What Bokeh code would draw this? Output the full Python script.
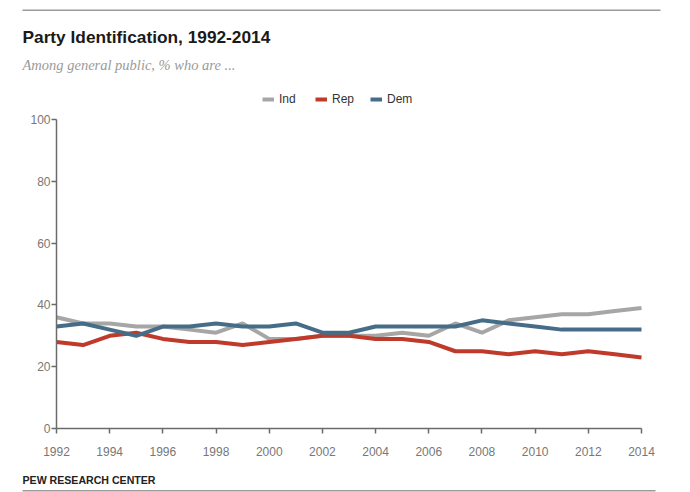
from bokeh.plotting import figure
from bokeh.models import Label, Legend, LegendItem, BoxAnnotation, Range1d, FixedTicker, LinearAxis
from bokeh.embed import file_html
from bokeh.resources import INLINE

years = list(range(1992, 2015))
ind = [36, 34, 34, 33, 33, 32, 31, 34, 29, 29, 30, 30, 30, 31, 30, 34, 31, 35, 36, 37, 37, 38, 39]
rep = [28, 27, 30, 31, 29, 28, 28, 27, 28, 29, 30, 30, 29, 29, 28, 25, 25, 24, 25, 24, 25, 24, 23]
dem = [33, 34, 32, 30, 33, 33, 34, 33, 33, 34, 31, 31, 33, 33, 33, 33, 35, 34, 33, 32, 32, 32, 32]
x_ticks = list(range(1992, 2015, 2))
y_ticks = [0, 20, 40, 60, 80, 100]

title = "Party Identification, 1992-2014"
subtitle = "Among general public, % who are ..."
source = "PEW RESEARCH CENTER"

C_IND, C_REP, C_DEM = "#a6a6a6", "#bf3a2b", "#466d87"

# layout in canvas pixels (from top-left of the figure)
W, H = 690, 492
PL, PR, PT, PB = 56, 641, 119, 428          # plot area edges
X0, X1, Y0, Y1 = years[0], years[-1], 0, 100
xs = (PR - PL) / (X1 - X0)
ys = (PB - PT) / (Y1 - Y0)
x_range = Range1d(X0 - PL / xs, X1 + (W - PR) / xs)
y_range = Range1d(Y0 - (H - PB) / ys, Y1 + PT / ys)

p = figure(width=W, height=H, x_range=x_range, y_range=y_range,
           output_backend="svg", toolbar_location=None,
           x_axis_location=None, y_axis_location=None,
           min_border=0)
p.outline_line_color = None
p.xgrid.visible = False
p.ygrid.visible = False
p.background_fill_color = "white"
p.border_fill_color = "white"

r_ind = p.line(years, ind, line_color=C_IND, line_width=4)
r_rep = p.line(years, rep, line_color=C_REP, line_width=4)
r_dem = p.line(years, dem, line_color=C_DEM, line_width=4)

xaxis = LinearAxis(fixed_location=Y0, bounds=(X0, X1), ticker=FixedTicker(ticks=x_ticks))
yaxis = LinearAxis(fixed_location=X0, bounds=(Y0, Y1), ticker=FixedTicker(ticks=y_ticks))
for ax in (xaxis, yaxis):
    ax.axis_line_color = "#6b6b6b"
    ax.axis_line_width = 1.5
    ax.major_tick_line_color = "#6b6b6b"
    ax.major_tick_line_width = 1.5
    ax.major_tick_in = 0
    ax.minor_tick_line_color = None
    ax.major_label_text_font = "Liberation Sans"
    ax.major_label_text_font_size = "12px"
    ax.major_label_text_color = "#777777"
xaxis.major_tick_out = 5
yaxis.major_tick_out = 5
xaxis.major_label_standoff = 13
yaxis.major_label_standoff = 1
p.add_layout(xaxis, "below")
p.add_layout(yaxis, "left")

legend = Legend(items=[LegendItem(label="Ind", renderers=[r_ind]),
                       LegendItem(label="Rep", renderers=[r_rep]),
                       LegendItem(label="Dem", renderers=[r_dem])],
                orientation="horizontal", location=(262, 386),
                label_text_font="Liberation Sans", label_text_font_size="12px",
                label_text_color="#333333", glyph_width=12, glyph_height=12,
                label_standoff=5, spacing=16, padding=0, margin=0,
                border_line_color=None, background_fill_alpha=0)
p.add_layout(legend, "center")

p.add_layout(Label(x=22, y=H - 36, x_units="screen", y_units="screen", text=title,
                   text_font="Liberation Sans", text_font_style="bold", text_font_size="17.3px",
                   text_color="#1a1a1a", text_baseline="alphabetic"))
p.add_layout(Label(x=22, y=H - 64, x_units="screen", y_units="screen", text=subtitle,
                   text_font="Liberation Serif", text_font_style="italic", text_font_size="14.5px",
                   text_color="#9a9a9a", text_baseline="alphabetic"))
p.add_layout(Label(x=22, y=H - 479, x_units="screen", y_units="screen", text=source,
                   text_font="Liberation Sans", text_font_style="bold", text_font_size="10.6px",
                   text_color="#222222", text_baseline="alphabetic"))

p.add_layout(BoxAnnotation(left=22, right=660, bottom=H - 10.5, top=H - 9,
                           left_units="screen", right_units="screen",
                           bottom_units="screen", top_units="screen",
                           fill_color="#9a9a9a", fill_alpha=1, line_color=None))
p.add_layout(BoxAnnotation(left=22, right=655, bottom=H - 491, top=H - 489.5,
                           left_units="screen", right_units="screen",
                           bottom_units="screen", top_units="screen",
                           fill_color="#9a9a9a", fill_alpha=1, line_color=None))

open("out.html", "w").write(file_html(p, INLINE))
